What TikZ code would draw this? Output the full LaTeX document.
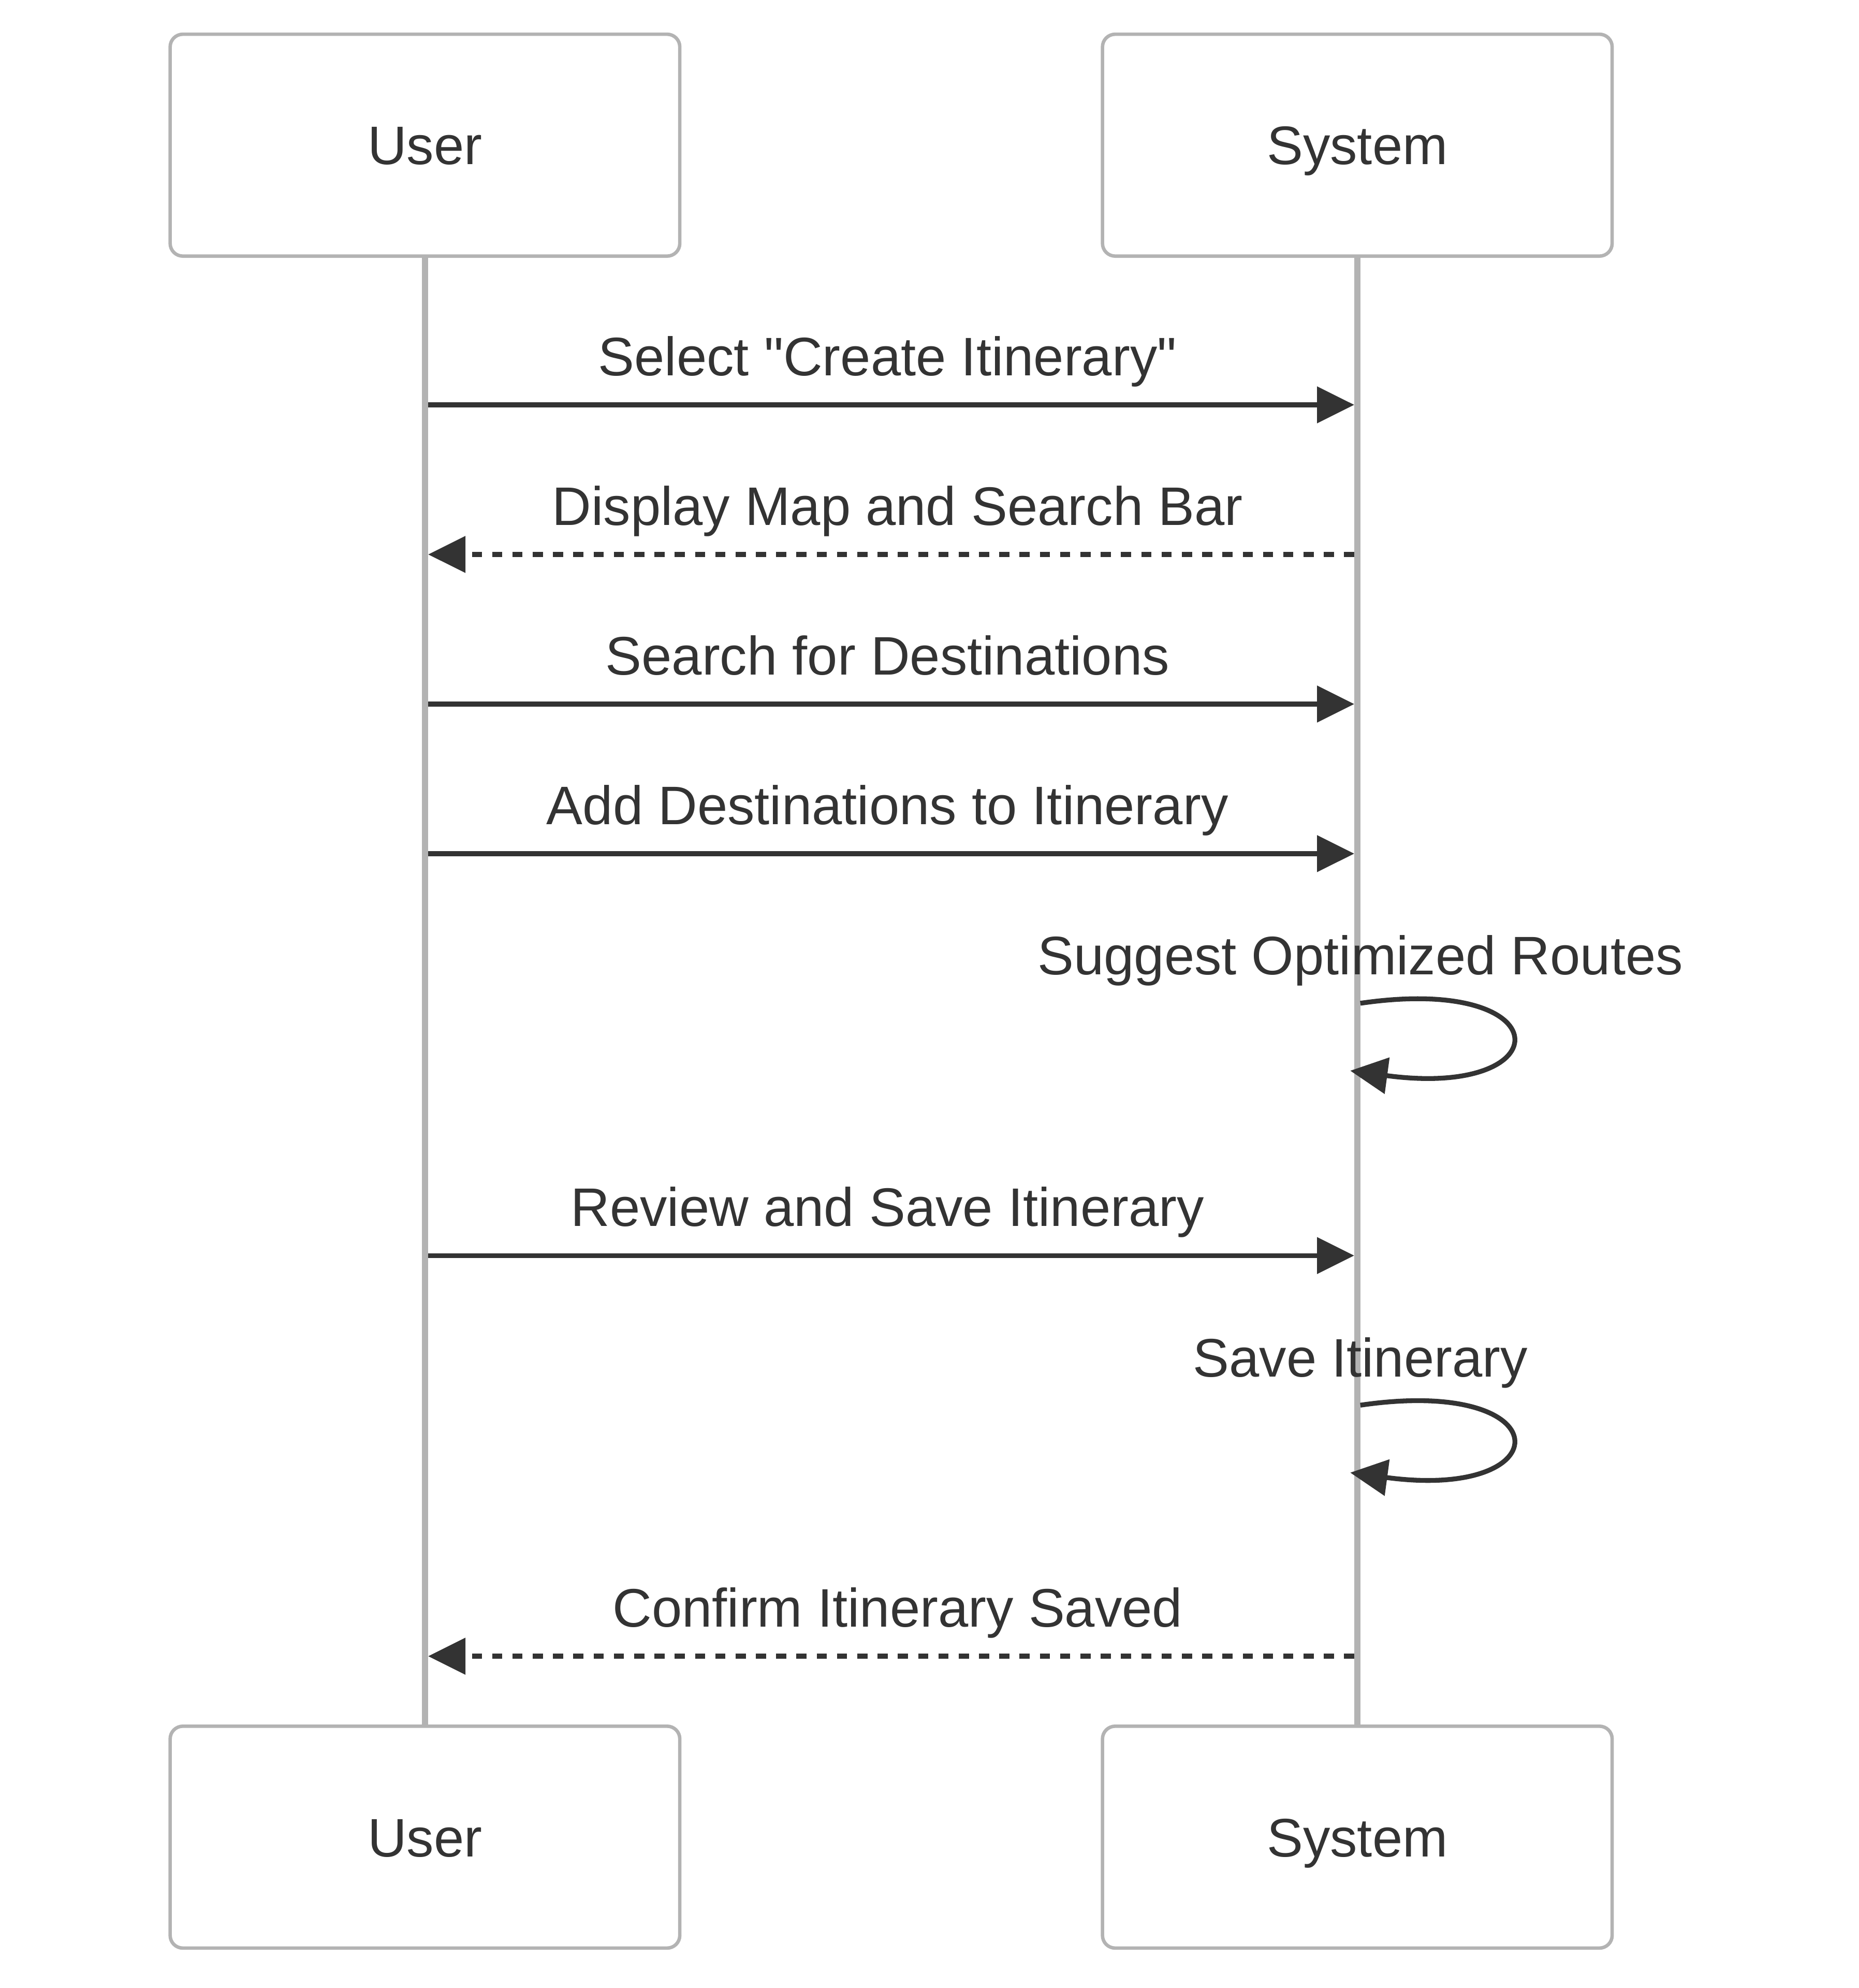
\documentclass[tikz,border=0pt]{standalone}
\usepackage{fontspec}
\setmainfont{Liberation Sans}
\usetikzlibrary{arrows.meta}
\definecolor{ink}{HTML}{333333}
\definecolor{edge}{HTML}{B3B3B3}
\begin{document}
\begin{tikzpicture}[x=0.5pt,y=-0.5pt,
  actor/.style={draw=edge,line width=1.35pt,fill=white,rounded corners=5pt,
    minimum width=201pt,minimum height=87.5pt,text height=15.3pt,text depth=0pt,
    text=ink,font=\fontsize{21.4}{26}\selectfont},
  life/.style={draw=edge,line width=2.5pt},
  msg/.style={draw=ink,line width=1.9pt,-{Triangle[length=14.7pt,width=14.1pt]}},
  reply/.style={msg,dash pattern=on 4pt off 4pt},
  lbl/.style={anchor=base,inner sep=0pt,text=ink,font=\fontsize{21.4}{26}\selectfont}]
\useasboundingbox (0,0) rectangle (1466,1568);
% lifelines
\coordinate (userA) at (335.2,202);
\coordinate (userB) at (335.2,1362);
\coordinate (sysA) at (1070.6,202);
\coordinate (sysB) at (1070.6,1362);
\draw[life] (userA) -- (userB);
\draw[life] (sysA) -- (sysB);
% actors
\node[actor] (userTop) at (335.2,114.5) {User};
\node[actor] (sysTop) at (1070.6,114.5) {System};
\node[actor] (userBot) at (335.2,1449) {User};
\node[actor] (sysBot) at (1070.6,1449) {System};
% message ends
\coordinate (u1) at (337.7,319.3);  \coordinate (s1) at (1068.2,319.3);
\coordinate (u2) at (337.7,437.3);  \coordinate (s2) at (1068.2,437.3);
\coordinate (u3) at (337.7,555.3);  \coordinate (s3) at (1068.2,555.3);
\coordinate (u4) at (337.7,673.3);  \coordinate (s4) at (1068.2,673.3);
\coordinate (u6) at (337.7,990.3);  \coordinate (s6) at (1068.2,990.3);
\coordinate (u8) at (337.7,1306.3); \coordinate (s8) at (1068.2,1306.3);
\coordinate (loopA) at (1073,791.3); \coordinate (loopB) at (1065,844.5);
\coordinate (loopC) at (1073,1108.3); \coordinate (loopD) at (1065,1161.5);
% messages
\draw[msg] (u1) -- (s1);
\node[lbl] (m1) at (700,296.3) {Select \textquotedbl Create Itinerary\textquotedbl};
\draw[reply] (s2) -- (u2);
\node[lbl] (m2) at (708,414.3) {Display Map and Search Bar};
\draw[msg] (u3) -- (s3);
\node[lbl] (m3) at (700,532.3) {Search for Destinations};
\draw[msg] (u4) -- (s4);
\node[lbl] (m4) at (700,650.3) {Add Destinations to Itinerary};
\draw[msg] (loopA) .. controls (1232,768) and (1232,867) .. (loopB);
\node[lbl] (m5) at (1073,768.8) {Suggest Optimized Routes};
\draw[msg] (u6) -- (s6);
\node[lbl] (m6) at (700,967.3) {Review and Save Itinerary};
\draw[msg] (loopC) .. controls (1232,1085) and (1232,1184) .. (loopD);
\node[lbl] (m7) at (1073,1085.8) {Save Itinerary};
\draw[reply] (s8) -- (u8);
\node[lbl] (m8) at (708,1283.3) {Confirm Itinerary Saved};
\end{tikzpicture}
\end{document}
